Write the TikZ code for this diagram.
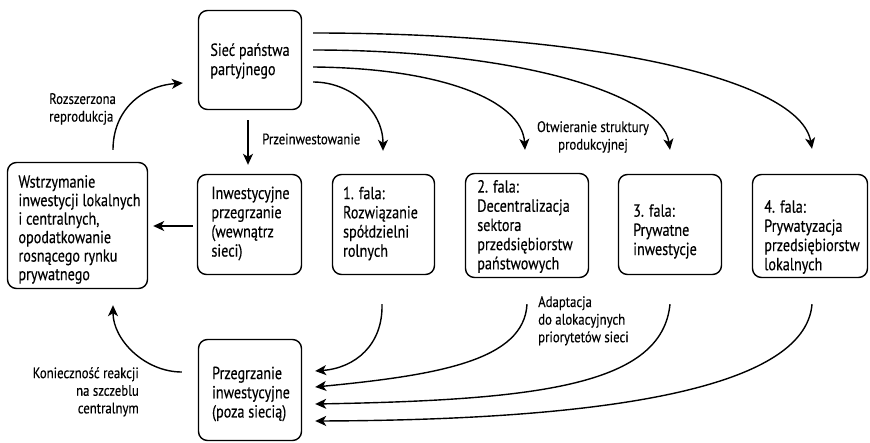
\documentclass[tikz,border=0pt]{standalone}
\usepackage{fontspec}
\setmainfont{PT Sans}[FakeStretch=0.81,FakeBold=0.3]
\newfontfamily\lblfont{PT Sans}[FakeStretch=0.84,FakeBold=0.25]
\usetikzlibrary{arrows.meta,calc}

\begin{document}
\begin{tikzpicture}[x=1pt,y=-1pt,
  box/.style={draw,line width=1.4pt,rounded corners=9pt,inner sep=0pt},
  txt/.style={align=left,inner sep=0pt,font=\fontsize{17.5}{19.2}\selectfont},
  lbl/.style={inner sep=0pt,font=\lblfont\fontsize{15.2}{17.6}\selectfont},
  conn/.style={line width=1.4pt,-{Stealth[length=11pt,width=10pt,inset=3pt]}},
]
\useasboundingbox (0,0) rectangle (870,442);

% boxes
\node[box,minimum width=103pt,minimum height=99pt]  (top)  at (250,60)    {};
\node[box,minimum width=140pt,minimum height=126pt] (wstr) at (77.5,225.5) {};
\node[box,minimum width=104pt,minimum height=100pt] (inw)  at (249.5,224.5) {};
\node[box,minimum width=102pt,minimum height=100pt] (f1)   at (383.5,224.5) {};
\node[box,minimum width=123pt,minimum height=104pt] (f2)   at (527,225.5)  {};
\node[box,minimum width=103pt,minimum height=100pt] (f3)   at (670,224.5)  {};
\node[box,minimum width=115pt,minimum height=103pt] (f4)   at (810,226)    {};
\node[box,minimum width=103pt,minimum height=101pt] (poza) at (250,390)    {};

% box texts
\node[txt] (top-t)  at ($(top)+(0,1)$)   {Sieć państwa\\partyjnego};
\node[txt,font=\fontsize{17.5}{18.5}\selectfont] (wstr-t) at ($(wstr)+(2,4)$)
  {Wstrzymanie\\inwestycji lokalnych\\i centralnych,\\opodatkowanie\\rosnącego rynku\\prywatnego};
\node[txt] (inw-t)  at ($(inw)+(1,-1)$)  {Inwestycyjne\\przegrzanie\\(wewnątrz\\sieci)};
\node[txt] (f1-t)   at ($(f1)+(-3,-1)$)  {1. fala:\\Rozwiązanie\\spółdzielni\\rolnych};
\node[txt] (f2-t)   at ($(f2)+(-2,1)$)   {2. fala:\\Decentralizacja\\sektora\\przedsiębiorstw\\państwowych};
\node[txt] (f3-t)   at ($(f3)+(-5,7)$)   {3. fala:\\Prywatne\\inwestycje};
\node[txt] (f4-t)   at ($(f4)+(2,11)$)   {4. fala:\\Prywatyzacja\\przedsiębiorstw\\lokalnych};
\node[txt] (poza-t) at ($(poza)+(1,4)$)  {Przegrzanie\\inwestycyjne\\(poza siecią)};

% labels
\node[lbl,anchor=west] (lprz) at (262,139) {Przeinwestowanie};
\node[lbl,align=center] (lotw) at (593,137) {Otwieranie struktury\\produkcyjnej};
\node[lbl,align=left,anchor=north west] (lada) at (538,296)
  {Adaptacja\\do alokacyjnych\\priorytetów sieci};
\node[lbl,align=left,anchor=north west] (lroz) at (49,93)
  {Rozszerzona\\reprodukcja};
\node[lbl,align=right,anchor=north east] (lkon) at (139,367)
  {Konieczność reakcji\\na szczeblu\\centralnym};

% straight connectors
\draw[conn] ($(top.south)+(-2,10)$) -- ($(inw.north)+(-1.5,-9)$);
\draw[conn] ($(inw.west)+(-4,1.5)$) -- ($(wstr.east)+(5,0.5)$);

% feedback arcs on the left
\draw[conn] ($(wstr.north)+(35.5,-12)$) .. controls (113,110) and (142,86) .. ($(top.west)+(-15,23)$);
\draw[conn] ($(poza.west)+(-16,-18)$) .. controls (145,372) and (113,340) .. ($(wstr.south)+(35.5,16)$);

% opening of the production structure
\draw[conn] ($(top.east)+(11,22)$) .. controls (350,82) and (383,110) .. ($(f1.north)+(-0.5,-23)$);
\draw[conn] ($(top.east)+(11,7)$) .. controls (440,68) and (522,100) .. ($(f2.north)+(-2,-23)$);
\draw[conn] ($(top.east)+(11,-10)$) .. controls (520,50) and (662,95) .. ($(f3.north)+(0,-24)$);
\draw[conn] ($(top.east)+(11,-27)$) .. controls (600,33) and (800,80) .. ($(f4.north)+(2,-25)$);

% adaptation to the network's allocation priorities
\draw[conn] ($(f1.south)+(-1.5,29)$) .. controls (383,345) and (355,368) .. ($(poza.east)+(13,-19)$);
\draw[conn] ($(f2.south)+(0,26)$) .. controls (524,360) and (440,375) .. ($(poza.east)+(13,-3)$);
\draw[conn] ($(f3.south)+(0,29)$) .. controls (662,385) and (540,400) .. ($(poza.east)+(13,14)$);
\draw[conn] ($(f4.south)+(2,26)$) .. controls (805,390) and (600,420) .. ($(poza.east)+(13,31)$);
\end{tikzpicture}
\end{document}
